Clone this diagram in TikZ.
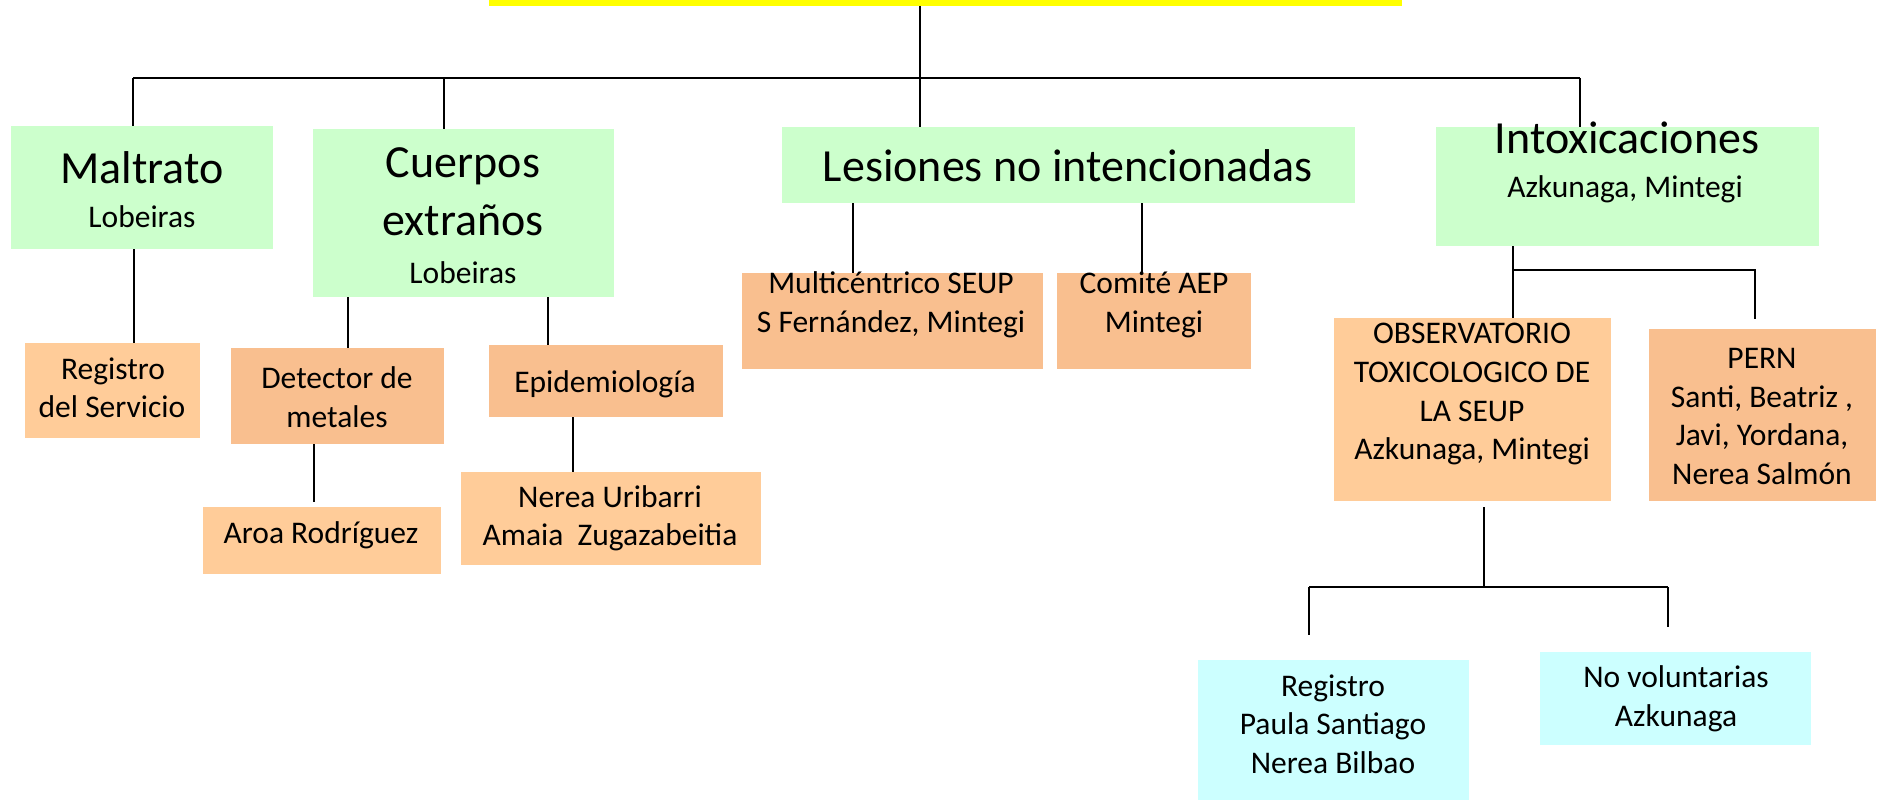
\documentclass[tikz,border=0pt]{standalone}
\usepackage{fontspec}
\setmainfont{Carlito}
\usetikzlibrary{calc}
\definecolor{ylw}{HTML}{FFFF00}
\definecolor{grn}{HTML}{CCFFCC}
\definecolor{lor}{HTML}{FFCC99}
\definecolor{dor}{HTML}{F9BF8F}
\definecolor{cyn}{HTML}{CCFFFF}
\newcommand\fbig{\fontsize{46}{55}\selectfont}
\newcommand\fsm{\fontsize{31.5}{38}\selectfont}
\newcommand\bx[6]{%
  \pgfmathsetmacro\bxcx{(#2+#4)/2}\pgfmathsetmacro\bxcy{(#3+#5)/2}%
  \pgfmathsetmacro\bxw{#4-#2}\pgfmathsetmacro\bxh{#5-#3}%
  \node[boxst,fill=#6,minimum width=\bxw pt,minimum height=\bxh pt] (#1) at (\bxcx,\bxcy) {};}
\newcommand\lbl[5]{\node[txtst,font=#4] (#1) at (#2,#3) {#5};}
\begin{document}
\begin{tikzpicture}[x=1pt,y=-1pt,
  boxst/.style={draw=none,inner sep=0pt,outer sep=0pt,rectangle},
  txtst/.style={anchor=base,inner sep=0pt},
  conn/.style={line width=1.8pt,black}]
\useasboundingbox (0,0) rectangle (1877,800);
% boxes
\bx{top}{489}{0}{1402}{6}{ylw}
\bx{mal}{11}{126}{273}{249}{grn}
\bx{cue}{313}{129}{614}{297}{grn}
\bx{les}{782}{127}{1355}{203}{grn}
\bx{int}{1436}{127}{1819}{246}{grn}
\bx{reg}{25}{343}{200}{438}{lor}
\bx{det}{231}{348}{444}{444}{dor}
\bx{aro}{203}{507}{441}{574}{lor}
\bx{epi}{489}{345}{723}{417}{dor}
\bx{ner}{461}{472}{761}{565}{lor}
\bx{mul}{742}{273}{1043}{369}{dor}
\bx{com}{1057}{273}{1251}{369}{dor}
\bx{obs}{1334}{318}{1611}{501}{lor}
\bx{per}{1649}{329}{1876}{501}{dor}
\bx{rpa}{1198}{660}{1469}{800}{cyn}
\bx{nov}{1540}{652}{1811}{745}{cyn}
% texts
\lbl{t1}{142}{183}{\fbig}{Maltrato}
\lbl{t2}{142}{227}{\fsm}{Lobeiras}
\lbl{t3}{463}{177}{\fbig}{Cuerpos}
\lbl{t4}{463}{235}{\fbig}{extraños}
\lbl{t5}{463}{283}{\fsm}{Lobeiras}
\lbl{t6}{1068}{181}{\fbig}{Lesiones no intencionadas}
\lbl{t7}{1627}{153}{\fbig}{Intoxicaciones}
\lbl{t8}{1625}{197}{\fsm}{Azkunaga, Mintegi}
\lbl{t9}{113}{379}{\fsm}{Registro}
\lbl{t10}{112}{417}{\fsm}{del Servicio}
\lbl{t11}{337}{388}{\fsm}{Detector de}
\lbl{t12}{337}{427}{\fsm}{metales}
\lbl{t13}{321}{543}{\fsm}{Aroa Rodríguez}
\lbl{t14}{605}{392}{\fsm}{Epidemiología}
\lbl{t15}{610}{507}{\fsm}{Nerea Uribarri}
\lbl{t16}{610}{545}{\fsm}{Amaia\ \ Zugazabeitia}
\lbl{t17}{891}{293}{\fsm}{Multicéntrico SEUP}
\lbl{t18}{891}{332}{\fsm}{S Fernández, Mintegi}
\lbl{t19}{1154}{293}{\fsm}{Comité AEP}
\lbl{t20}{1154}{332}{\fsm}{Mintegi}
\lbl{t21}{1472}{343}{\fsm}{OBSERVATORIO}
\lbl{t22}{1472}{382}{\fsm}{TOXICOLOGICO DE}
\lbl{t23}{1472}{421}{\fsm}{LA SEUP}
\lbl{t24}{1472}{459}{\fsm}{Azkunaga, Mintegi}
\lbl{t25}{1762}{368}{\fsm}{PERN}
\lbl{t26}{1762}{407}{\fsm}{Santi, Beatriz ,}
\lbl{t27}{1762}{445}{\fsm}{Javi, Yordana,}
\lbl{t28}{1762}{484}{\fsm}{Nerea Salmón}
\lbl{t29}{1333}{696}{\fsm}{Registro}
\lbl{t30}{1333}{734}{\fsm}{Paula Santiago}
\lbl{t31}{1333}{773}{\fsm}{Nerea Bilbao}
\lbl{t32}{1676}{687}{\fsm}{No voluntarias}
\lbl{t33}{1676}{726}{\fsm}{Azkunaga}
% connector coordinates
\coordinate (j0) at (920,78);
\coordinate (bL) at (133,78);
\coordinate (j1) at (444,78);
\coordinate (bR) at (1580,78);
\coordinate (x1) at (134,0);
\coordinate (x2) at (348,0);
\coordinate (x3) at (548,0);
\coordinate (x4) at (314,0);
\coordinate (x5) at (573,0);
\coordinate (x6) at (853,0);
\coordinate (x7) at (1142,0);
\coordinate (k1) at (1513,270);
\coordinate (k2) at (1755,270);
\coordinate (o0) at (1484,587);
\coordinate (oL) at (1309,587);
\coordinate (oR) at (1668,587);
% connectors
\draw[conn] (top.south -| j0) -- (j0 |- les.north);
\draw[conn] (bL) -- (bR);
\draw[conn] (bL) -- (bL |- mal.north);
\draw[conn] (j1) -- (j1 |- cue.north);
\draw[conn] (bR) -- (bR |- int.north);
\draw[conn] (mal.south -| x1) -- (x1 |- reg.north);
\draw[conn] (cue.south -| x2) -- (x2 |- det.north);
\draw[conn] (cue.south -| x3) -- (x3 |- epi.north);
\draw[conn] (det.south -| x4) -- ($(x4 |- aro.north)+(0,-5)$);
\draw[conn] (epi.south -| x5) -- (x5 |- ner.north);
\draw[conn] (les.south -| x6) -- (x6 |- mul.north);
\draw[conn] (les.south -| x7) -- (x7 |- com.north);
\draw[conn] (int.south -| k1) -- (k1 |- obs.north);
\draw[conn] (k1) -- (k2) -- ($(k2 |- per.north)+(0,-10)$);
\draw[conn] ($(obs.south -| o0)+(0,6)$) -- (o0);
\draw[conn] (oL) -- (oR);
\draw[conn] (oL) -- ($(oL |- rpa.north)+(0,-25)$);
\draw[conn] (oR) -- ($(oR |- nov.north)+(0,-25)$);
\end{tikzpicture}
\end{document}
